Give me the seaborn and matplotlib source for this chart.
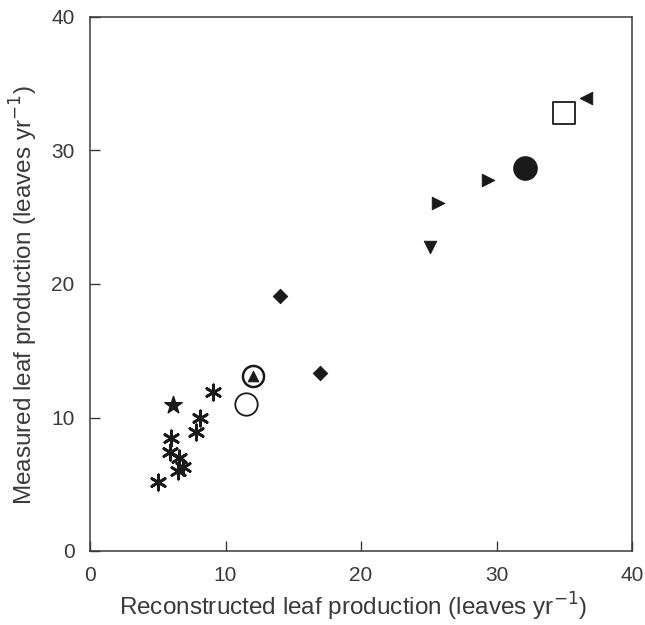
import matplotlib
matplotlib.use('Agg')
import matplotlib.pyplot as plt
import seaborn as sns
import pandas as pd

# Punktdaten
ast_x = [5.0, 6.0, 5.9, 6.6, 6.9, 6.5, 7.8, 8.1, 9.1]
ast_y = [5.2, 8.5, 7.4, 7.0, 6.3, 6.0, 8.9, 10.0, 11.9]
star_x, star_y = [6.1], [10.9]
open_circ_x, open_circ_y = [11.5], [11.0]
circ_tri_x, circ_tri_y = [12.0], [13.1]
diamond_x = [14.0, 17.0]
diamond_y = [19.1, 13.3]
down_tri_x, down_tri_y = [25.1], [22.8]
right_tri_x = [25.7, 29.4]
right_tri_y = [26.1, 27.8]
fill_circ_x, fill_circ_y = [32.1], [28.7]
square_x, square_y = [35.0], [32.8]
left_tri_x, left_tri_y = [36.6], [33.9]

sns.set_style('white')
plt.rcParams['font.family'] = ['Liberation Sans', 'DejaVu Sans']

fig = plt.figure(figsize=(6.45, 6.25), dpi=100)
ax = fig.add_axes([0.1395, 0.1184, 0.8405, 0.8544])

ink = '#1a1a1a'
grey = '#3a3a3a'


def pts(xs, ys, **kw):
    df = pd.DataFrame({'x': xs, 'y': ys})
    sns.scatterplot(data=df, x='x', y='y', ax=ax, legend=False, **kw)


pts(ast_x, ast_y, marker=(6, 2, 0), s=120, color=ink, linewidth=2.0, edgecolor=ink)
pts(star_x, star_y, marker='*', s=170, color=ink, edgecolor=ink)
pts(open_circ_x, open_circ_y, marker='o', s=260, facecolor='white', edgecolor=ink, linewidth=1.3)
pts(circ_tri_x, circ_tri_y, marker='o', s=230, facecolor='white', edgecolor=ink, linewidth=1.8)
pts(circ_tri_x, circ_tri_y, marker='^', s=60, color=ink, edgecolor=ink)
pts(diamond_x, diamond_y, marker='D', s=55, color=ink, edgecolor=ink)
pts(down_tri_x, down_tri_y, marker='v', s=80, color=ink, edgecolor=ink)
pts(right_tri_x, right_tri_y, marker='>', s=80, color=ink, edgecolor=ink)
pts(fill_circ_x, fill_circ_y, marker='o', s=270, color=ink, edgecolor=ink)
pts(square_x, square_y, marker='s', s=250, facecolor='white', edgecolor=ink, linewidth=1.3)
pts(left_tri_x, left_tri_y, marker='<', s=80, color=ink, edgecolor=ink)

ax.set_xlim(0, 40)
ax.set_ylim(0, 40)
ax.set_xticks([0, 10, 20, 30, 40])
ax.set_yticks([0, 10, 20, 30, 40])
ax.tick_params(direction='in', length=7, width=1, colors=grey,
               labelsize=15, pad=11, bottom=True, left=True)
for sp in ax.spines.values():
    sp.set_color(grey)
    sp.set_linewidth(1.1)

ax.set_xlabel('Reconstructed leaf production (leaves yr$^{-1}$)', fontsize=17.5, color=grey, labelpad=4)
ax.set_ylabel('Measured leaf production (leaves yr$^{-1}$)', fontsize=17.5, color=grey, labelpad=8)
ax.xaxis.label.set_x(0.485)
ax.yaxis.label.set_y(0.48)

fig.savefig('out.png', dpi=100)
